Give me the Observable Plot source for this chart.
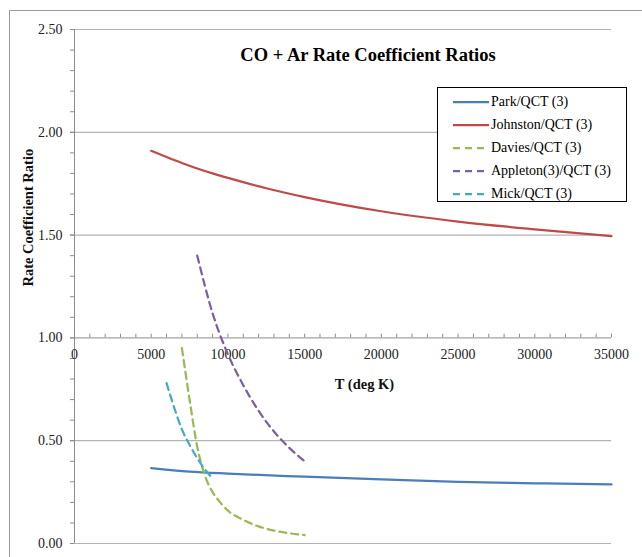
<!DOCTYPE html>
<html>
<head>
<meta charset="utf-8">
<script src="https://cdn.jsdelivr.net/npm/d3@7"></script>
<script src="https://cdn.jsdelivr.net/npm/@observablehq/plot@0.6"></script>
<style>
  html, body { margin: 0; padding: 0; background: #fff; overflow: hidden; }
  #wrap { position: relative; width: 642px; height: 557px; font-family: "Liberation Serif", serif; }
  #frame { position: absolute; left: 9px; top: 10px; width: 640px; height: 560px;
           border-top: 1px solid #9a9a9a; border-left: 1px solid #9a9a9a; }
  #title { position: absolute; left: 0; width: 736px; top: 45px; text-align: center;
           font-weight: bold; font-size: 18.5px; color: #000; }
  #legend { position: absolute; left: 437px; top: 87px; width: 190px; height: 115px;
            border: 1px solid #000; background: #fff; box-sizing: border-box; font-size: 14px; }
  .row { position: absolute; left: 15px; height: 20px; display: flex; align-items: center; }
  .row svg { margin-right: 2px; }
  #chart svg { position: absolute; left: 0; top: 0; }
</style>
</head>
<body>
<div id="wrap">
  <div id="frame"></div>
  <div id="chart"></div>
  <div id="title">CO + Ar Rate Coefficient Ratios</div>
  <div id="legend"></div>
</div>
<script>
// ---- data ----
const seriesNames = ["Park/QCT (3)", "Johnston/QCT (3)", "Davies/QCT (3)", "Appleton(3)/QCT (3)", "Mick/QCT (3)"];
const seriesColors = ["#4a7ebb", "#be4b48", "#98b954", "#7d60a0", "#46aac5"];
const seriesDashed = [false, false, true, true, true];

const parkT = [5000, 7500, 10000, 15000, 20000, 25000, 30000, 35000];
const parkV = [0.367, 0.35, 0.34, 0.325, 0.312, 0.30, 0.293, 0.287];

const johnstonT = [5000, 6000, 7000, 8000, 9000, 10000, 12500, 15000, 20000, 25000, 30000, 35000];
const johnstonV = [1.91, 1.88, 1.851, 1.824, 1.80, 1.778, 1.728, 1.685, 1.616, 1.566, 1.528, 1.495];

const daviesT = [7000, 7500, 8000, 8500, 9000, 9500, 10000, 11000, 12000, 13000, 14000, 15000];
const daviesV = [0.95, 0.70, 0.47, 0.33, 0.25, 0.20, 0.16, 0.115, 0.083, 0.063, 0.05, 0.041];

const appletonT = [8000, 9000, 10000, 11000, 12000, 13000, 14000, 15000];
const appletonV = [1.40, 1.12, 0.92, 0.77, 0.645, 0.545, 0.465, 0.40];

const mickT = [6000, 6500, 7000, 7500, 8000, 8500, 9000];
const mickV = [0.78, 0.66, 0.555, 0.48, 0.415, 0.36, 0.318];

const xTicksMajor = [0, 5000, 10000, 15000, 20000, 25000, 30000, 35000];
const xTicksMinor = d3.range(0, 35001, 1000);
const yTicksMajor = [0, 0.5, 1.0, 1.5, 2.0, 2.5];
const yTicksMinor = d3.range(0, 26).map(i => i / 10);

const xTitle = "T (deg K)";
const yTitle = "Rate Coefficient Ratio";

// ---- build table ----
const allT = [parkT, johnstonT, daviesT, appletonT, mickT];
const allV = [parkV, johnstonV, daviesV, appletonV, mickV];
const rows = [];
allT.forEach((ts, s) => ts.forEach((t, i) => rows.push({series: seriesNames[s], T: t, v: allV[s][i], dashed: seriesDashed[s]})));

const colorScale = {domain: seriesNames, range: seriesColors};
const fontFamily = "Liberation Serif, serif";

const plot = Plot.plot({
  width: 642,
  height: 557,
  marginLeft: 74,
  marginRight: 31,
  marginTop: 29,
  marginBottom: 14,
  style: {fontFamily, fontSize: "14px", background: "transparent", overflow: "visible"},
  x: {domain: [0, 35000], axis: null},
  y: {domain: [0, 2.5], axis: null},
  color: colorScale,
  marks: [
    Plot.ruleY(yTicksMajor.filter(d => d !== 1), {stroke: "#b3b3b3", strokeWidth: 1.2}),
    Plot.ruleX([0], {stroke: "#8c8c8c", strokeWidth: 1}),
    Plot.ruleY([1], {stroke: "#8c8c8c", strokeWidth: 1}),
    // y axis
    Plot.axisY({ticks: yTicksMinor, tickSize: 4, text: null, stroke: "#8c8c8c", label: null}),
    Plot.axisY({ticks: yTicksMajor, tickSize: 4, tickPadding: 8, tickFormat: d3.format(".2f"),
                stroke: "#8c8c8c", fill: "#222", fontSize: 14, label: null}),
    // x axis crossing at y = 1
    Plot.ruleX(xTicksMinor, {x: d => d, y1: 1, y2: 1.018, stroke: "#8c8c8c"}),
    Plot.text(xTicksMajor, {x: d => d, y: 1, text: d => String(d), dy: 17, fill: "#222", fontSize: 14}),
    // axis titles
    Plot.text([xTitle], {x: 18900, y: 1, dy: 46, fontWeight: "bold", fontSize: 14.5, fill: "#111"}),
    Plot.text([yTitle], {frameAnchor: "left", dx: -46, rotate: -90, fontWeight: "bold", fontSize: 14.5, fill: "#111"}),
    // data lines
    Plot.line(rows.filter(d => !d.dashed), {x: "T", y: "v", z: "series", stroke: "series", strokeWidth: 2.25, curve: "monotone-x"}),
    Plot.line(rows.filter(d => d.dashed), {x: "T", y: "v", z: "series", stroke: "series", strokeWidth: 2.25, strokeDasharray: "7,5", curve: "monotone-x"})
  ]
});
document.getElementById("chart").appendChild(plot);

// ---- legend ----
const legend = document.getElementById("legend");
seriesNames.forEach((name, i) => {
  const row = document.createElement("div");
  row.className = "row";
  row.style.top = (4 + i * 23) + "px";
  const dash = seriesDashed[i] ? ' stroke-dasharray="7,5"' : '';
  row.innerHTML = `<svg width="36" height="6"><line x1="0" y1="3" x2="36" y2="3" stroke="${seriesColors[i]}" stroke-width="2.25"${dash}/></svg><span>${name}</span>`;
  legend.appendChild(row);
});
</script>
</body>
</html>
